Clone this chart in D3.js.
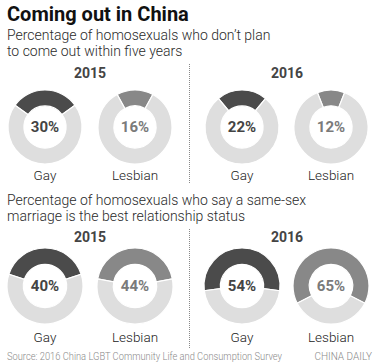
<!DOCTYPE html>
<html><head><meta charset="utf-8">
<script src="https://cdn.jsdelivr.net/npm/d3@7"></script>
<style>body{margin:0;background:#fff}svg{display:block}</style>
</head><body>
<svg id="c" width="379" height="364"></svg>
<script>
const years = ["2015", "2016"];
const groups = ["Gay", "Lesbian"];
const notComingOut2015 = [30, 16];
const notComingOut2016 = [22, 12];
const marriage2015 = [40, 44];
const marriage2016 = [54, 65];
const title = "Coming out in China";
const subtitle1 = ["Percentage of homosexuals who don\u2019t plan", "to come out within five years"];
const subtitle2 = ["Percentage of homosexuals who say a same-sex", "marriage is the best relationship status"];
const source = "Source: 2016 China LGBT Community Life and Consumption Survey";
const credit = "CHINA DAILY";

const svg = d3.select("#c");
const FONT = "Roboto, 'Liberation Sans', sans-serif";
const arcColor = d3.scaleOrdinal().domain(groups).range(["#4b4b4b", "#888888"]);
const textColor = d3.scaleOrdinal().domain(groups).range(["#444444", "#7a7a7a"]);
const restColor = "#dedede";

// title
svg.append("text").attr("x", 7).attr("y", 21).text(title)
  .attr("font-family", FONT).attr("font-weight", 700).attr("font-size", 20).attr("fill", "#111");

const xYear = d3.scalePoint().domain(years).range([90, 287]);
const centers = [45, 135, 242, 331];

function section(subLines, subY, yearY, cy, r, labelY, divTop, divBot, series) {
  subLines.forEach((t, i) => {
    svg.append("text").attr("x", 7).attr("y", subY + i * 16).text(t)
      .attr("font-family", FONT).attr("font-weight", 300).attr("font-size", 14).attr("fill", "#2a2a2a");
  });
  years.forEach(y => {
    svg.append("text").attr("x", xYear(y)).attr("y", yearY).attr("text-anchor", "middle").text(y)
      .attr("font-family", FONT).attr("font-weight", 700).attr("font-size", 14).attr("fill", "#444");
  });
  svg.append("line").attr("x1", 189.5).attr("x2", 189.5).attr("y1", divTop).attr("y2", divBot)
    .attr("stroke", "#888").attr("stroke-width", 1).attr("stroke-dasharray", "1,1");
  const arc = d3.arc().innerRadius(r * 0.57).outerRadius(r);
  series.forEach((vals, yi) => {
    vals.forEach((v, gi) => {
      const idx = yi * 2 + gi;
      const cx = centers[idx];
      const span = v / 100 * 2 * Math.PI;
      const pie = d3.pie().sort(null).value(d => d.v)
        .startAngle(-span / 2).endAngle(2 * Math.PI - span / 2);
      const g = svg.append("g").attr("transform", `translate(${cx},${cy})`);
      g.selectAll("path").data(pie([{v: v, k: "part"}, {v: 100 - v, k: "rest"}])).join("path")
        .attr("d", arc)
        .attr("fill", d => d.data.k === "part" ? arcColor(groups[gi]) : restColor)
        .attr("stroke", "#fff").attr("stroke-width", 1.2);
      g.append("text").attr("y", 5).attr("text-anchor", "middle").text(v + "%")
        .attr("font-family", FONT).attr("font-weight", 700).attr("font-size", 15)
        .attr("fill", textColor(groups[gi]));
      svg.append("text").attr("x", cx).attr("y", labelY).attr("text-anchor", "middle").text(groups[gi])
        .attr("font-family", FONT).attr("font-weight", 300).attr("font-size", 13.5).attr("fill", "#222");
    });
  });
}

section(subtitle1, 40, 78, 127, 37, 180, 64, 183, [notComingOut2015, notComingOut2016]);
section(subtitle2, 205, 242, 286, 38, 342, 229, 348, [marriage2015, marriage2016]);

svg.append("text").attr("x", 7).attr("y", 360).text(source)
  .attr("font-family", FONT).attr("font-weight", 300).attr("font-size", 10).attr("fill", "#8a8a8a")
  .attr("textLength", 275).attr("lengthAdjust", "spacingAndGlyphs");
svg.append("text").attr("x", 372).attr("y", 360).attr("text-anchor", "end").text(credit)
  .attr("font-family", FONT).attr("font-weight", 300).attr("font-size", 10).attr("fill", "#8a8a8a");
</script>
</body></html>
